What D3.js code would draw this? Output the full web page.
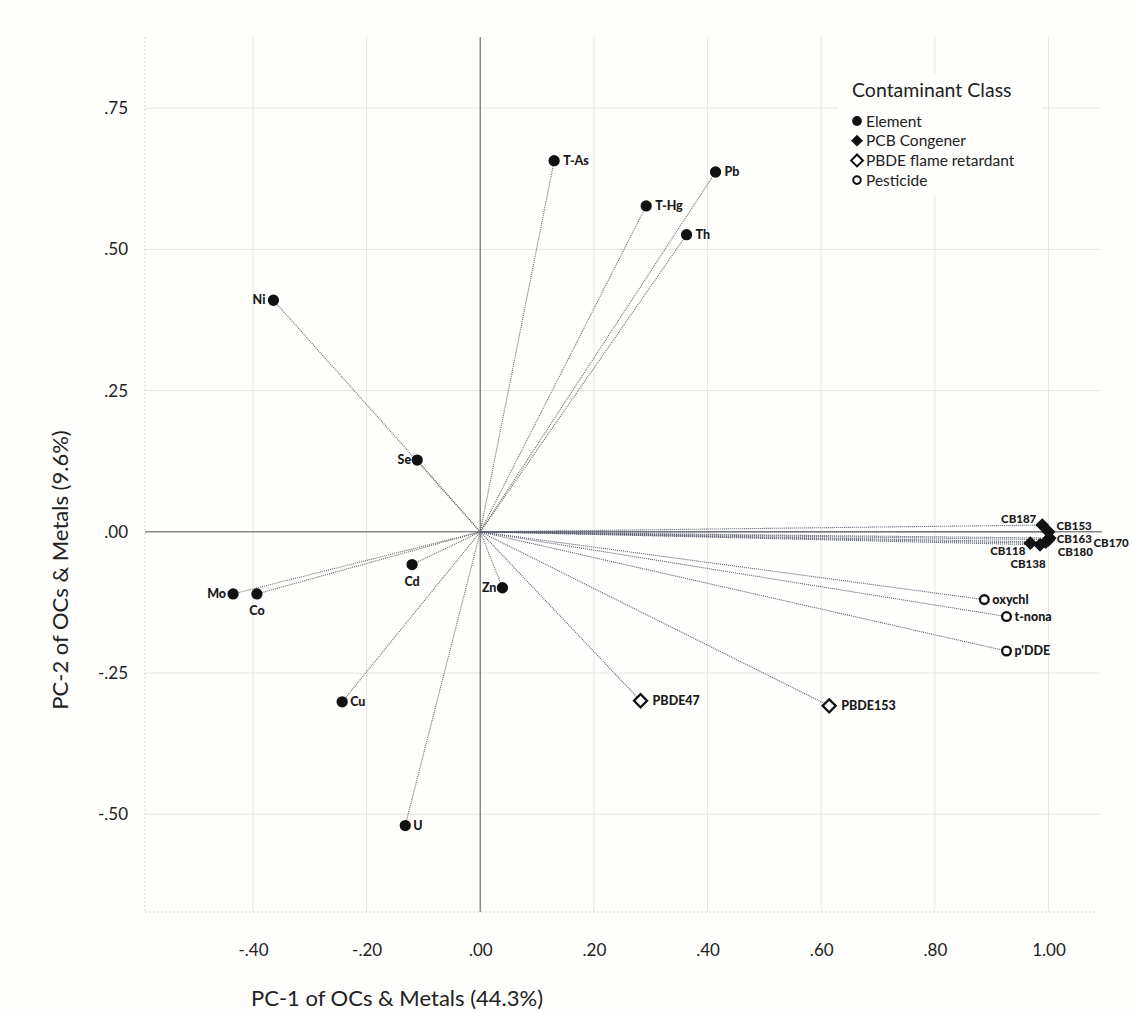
<!DOCTYPE html>
<html>
<head>
<meta charset="utf-8">
<script src="https://cdn.jsdelivr.net/npm/d3@7"></script>
<style>
  body { margin: 0; background: #fefefc; }
  svg { font-family: Lato, "Open Sans", sans-serif; }
</style>
</head>
<body>
<div id="chart"></div>
<script>
// loadings
const names = ["T-As", "Pb", "T-Hg", "Th", "Ni", "Se", "Mo", "Co", "Cd", "Zn", "Cu", "U",
               "CB187", "CB153", "CB163", "CB170", "CB180", "CB138", "CB118",
               "PBDE47", "PBDE153", "oxychl", "t-nona", "p'DDE"]
const pc1 = [0.130, 0.414, 0.292, 0.363, -0.364, -0.111, -0.435, -0.393, -0.120, 0.039, -0.243, -0.132,
             0.989, 1.000, 1.002, 1.000, 0.995, 0.985, 0.968,
             0.282, 0.614, 0.887, 0.926, 0.926]
const pc2 = [0.657, 0.637, 0.577, 0.526, 0.410, 0.127, -0.110, -0.110, -0.058, -0.099, -0.301, -0.520,
             0.012, 0.000, -0.011, -0.014, -0.018, -0.023, -0.020,
             -0.299, -0.308, -0.120, -0.150, -0.211]
const classes = ["Element", "Element", "Element", "Element", "Element", "Element", "Element", "Element",
                 "Element", "Element", "Element", "Element",
                 "PCB Congener", "PCB Congener", "PCB Congener", "PCB Congener", "PCB Congener",
                 "PCB Congener", "PCB Congener",
                 "PBDE flame retardant", "PBDE flame retardant",
                 "Pesticide", "Pesticide", "Pesticide"]

const classNames = ["Element", "PCB Congener", "PBDE flame retardant", "Pesticide"]
const xTicks = [-0.4, -0.2, 0, 0.2, 0.4, 0.6, 0.8, 1.0]
const yTicks = [0.75, 0.5, 0.25, 0, -0.25, -0.5]
const xTickLabels = ["-.40", "-.20", ".00", ".20", ".40", ".60", ".80", "1.00"]
const yTickLabels = [".75", ".50", ".25", ".00", "-.25", "-.50"]

const data = names.map((n, i) => ({ name: n, x: pc1[i], y: pc2[i], cls: classes[i] }))

// where each point label sits relative to its marker: [dx, dy, anchor]
const labelPlace = {
  "T-As": [9, 4, "start"], "Pb": [9, 4, "start"], "T-Hg": [9, 4, "start"], "Th": [9, 4, "start"],
  "Ni": [-8, 4, "end"], "Se": [-6, 4, "end"], "Mo": [-7, 4, "end"], "Co": [0, 21, "middle"],
  "Cd": [0, 21, "middle"], "Zn": [-6, 4, "end"], "Cu": [8, 4, "start"], "U": [8, 4, "start"],
  "CB187": [-6, -2, "end"], "CB153": [8, -2, "start"], "CB163": [7, 5, "start"],
  "CB170": [45, 7, "start"], "CB180": [12, 14, "start"], "CB138": [-12, 23, "middle"],
  "CB118": [-5, 12, "end"],
  "PBDE47": [12, 4, "start"], "PBDE153": [12, 4, "start"],
  "oxychl": [8, 4, "start"], "t-nona": [8, 4, "start"], "p'DDE": [8, 4, "start"]
}

const width = 1132, height = 1012
const margin = { top: 37, right: 38, bottom: 100, left: 145 }

const svg = d3.select("#chart")
  .append("svg")
  .attr("width", width)
  .attr("height", height)

const x = d3.scaleLinear()
  .domain([-0.59, 1.08])
  .range([margin.left, width - margin.right])
const y = d3.scaleLinear()
  .domain([-0.673, 0.876])
  .range([height - margin.bottom, margin.top])

// grid lines
svg.append("g")
  .selectAll("line")
  .data(xTicks.filter(d => d !== 0))
  .join("line")
  .attr("x1", d => x(d)).attr("x2", d => x(d))
  .attr("y1", margin.top).attr("y2", height - margin.bottom)
  .attr("stroke", "#e8e6e3")
svg.append("g")
  .selectAll("line")
  .data(yTicks.filter(d => d !== 0))
  .join("line")
  .attr("x1", margin.left).attr("x2", width - margin.right + 6)
  .attr("y1", d => y(d)).attr("y2", d => y(d))
  .attr("stroke", "#e8e6e3")

// dotted frame on left and bottom
svg.append("line")
  .attr("x1", margin.left).attr("x2", margin.left)
  .attr("y1", margin.top).attr("y2", height - margin.bottom)
  .attr("stroke", "#c9c6c2").attr("stroke-dasharray", "1.5,2.5")
svg.append("line")
  .attr("x1", margin.left).attr("x2", width - margin.right)
  .attr("y1", height - margin.bottom).attr("y2", height - margin.bottom)
  .attr("stroke", "#c9c6c2").attr("stroke-dasharray", "1.5,2.5")

// zero reference lines
svg.append("line")
  .attr("x1", x(0)).attr("x2", x(0))
  .attr("y1", margin.top).attr("y2", height - margin.bottom)
  .attr("stroke", "#8a8886").attr("stroke-width", 1.5)
svg.append("line")
  .attr("x1", margin.left).attr("x2", width - margin.right + 8)
  .attr("y1", y(0)).attr("y2", y(0))
  .attr("stroke", "#8a8886").attr("stroke-width", 1.5)

// axes (tick labels only)
const xAxis = svg.append("g")
  .attr("transform", `translate(0,${height - margin.bottom})`)
  .call(d3.axisBottom(x).tickValues(xTicks).tickFormat((d, i) => xTickLabels[i]).tickSize(0).tickPadding(32))
xAxis.select(".domain").remove()
xAxis.selectAll("text").attr("font-size", 17).attr("fill", "#222").attr("font-family", "Lato, sans-serif")

const yAxis = svg.append("g")
  .attr("transform", `translate(${margin.left},0)`)
  .call(d3.axisLeft(y).tickValues(yTicks).tickFormat((d, i) => yTickLabels[i]).tickSize(0).tickPadding(17))
yAxis.select(".domain").remove()
yAxis.selectAll("text").attr("font-size", 17).attr("fill", "#222").attr("font-family", "Lato, sans-serif")

// vectors from origin
svg.append("g")
  .selectAll("line")
  .data(data)
  .join("line")
  .attr("x1", x(0)).attr("y1", y(0))
  .attr("x2", d => x(d.x)).attr("y2", d => y(d.y))
  .attr("stroke", d => d.cls === "Element" ? "#666" : "#565b70")
  .attr("stroke-width", 1.1)
  .attr("stroke-dasharray", "1,1")

// markers: circles, and squares turned 45 degrees for diamonds
const symType = {
  "Element": d3.symbolCircle, "PCB Congener": d3.symbolSquare,
  "PBDE flame retardant": d3.symbolSquare, "Pesticide": d3.symbolCircle
}
const symSize = { "Element": 100, "PCB Congener": 95, "PBDE flame retardant": 85, "Pesticide": 60 }
const symRot = cls => symType[cls] === d3.symbolSquare ? 45 : 0
const filled = cls => cls === "Element" || cls === "PCB Congener"

svg.append("g")
  .selectAll("path")
  .data(data)
  .join("path")
  .attr("transform", d => `translate(${x(d.x)},${y(d.y)}) rotate(${symRot(d.cls)})`)
  .attr("d", d => d3.symbol(symType[d.cls], symSize[d.cls])())
  .attr("fill", d => filled(d.cls) ? "#111" : "#fff")
  .attr("stroke", "#111")
  .attr("stroke-width", d => filled(d.cls) ? 0 : 2.3)

// point labels (PCB cluster slightly smaller so it stays readable)
svg.append("g")
  .selectAll("text")
  .data(data)
  .join("text")
  .attr("x", d => x(d.x) + labelPlace[d.name][0])
  .attr("y", d => y(d.y) + labelPlace[d.name][1])
  .attr("text-anchor", d => labelPlace[d.name][2])
  .attr("font-size", d => d.cls === "PCB Congener" ? 11.5 : 12.5)
  .attr("font-weight", "900")
  .attr("fill", "#1a1a1a")
  .text(d => d.name)

// legend
const legend = svg.append("g")
legend.append("rect")
  .attr("x", 838).attr("y", 74).attr("width", 204).attr("height", 122)
  .attr("fill", "#fefefc")
legend.append("text")
  .attr("x", 852).attr("y", 97)
  .attr("font-size", 19.5)
  .attr("fill", "#222")
  .text("Contaminant Class")
const item = legend.selectAll(".item")
  .data(classNames)
  .join("g")
  .attr("class", "item")
  .attr("transform", (d, i) => `translate(857,${121 + i * 19.7})`)
item.append("path")
  .attr("transform", d => `rotate(${symRot(d)})`)
  .attr("d", d => d3.symbol(symType[d], d === "Pesticide" ? 45 : d === "Element" ? 75 : 70)())
  .attr("fill", d => filled(d) ? "#111" : "#fff")
  .attr("stroke", "#111")
  .attr("stroke-width", d => filled(d) ? 0 : 2)
item.append("text")
  .attr("x", 9).attr("y", 5.5)
  .attr("font-size", 15.5)
  .attr("fill", "#222")
  .text(d => d)

// axis titles
svg.append("text")
  .attr("x", 397).attr("y", 1006)
  .attr("text-anchor", "middle")
  .attr("font-size", 22)
  .attr("fill", "#222")
  .text("PC-1 of OCs & Metals (44.3%)")
svg.append("text")
  .attr("transform", "translate(68,570) rotate(-90)")
  .attr("text-anchor", "middle")
  .attr("font-size", 22)
  .attr("fill", "#222")
  .text("PC-2 of OCs & Metals (9.6%)")
</script>
</body>
</html>
